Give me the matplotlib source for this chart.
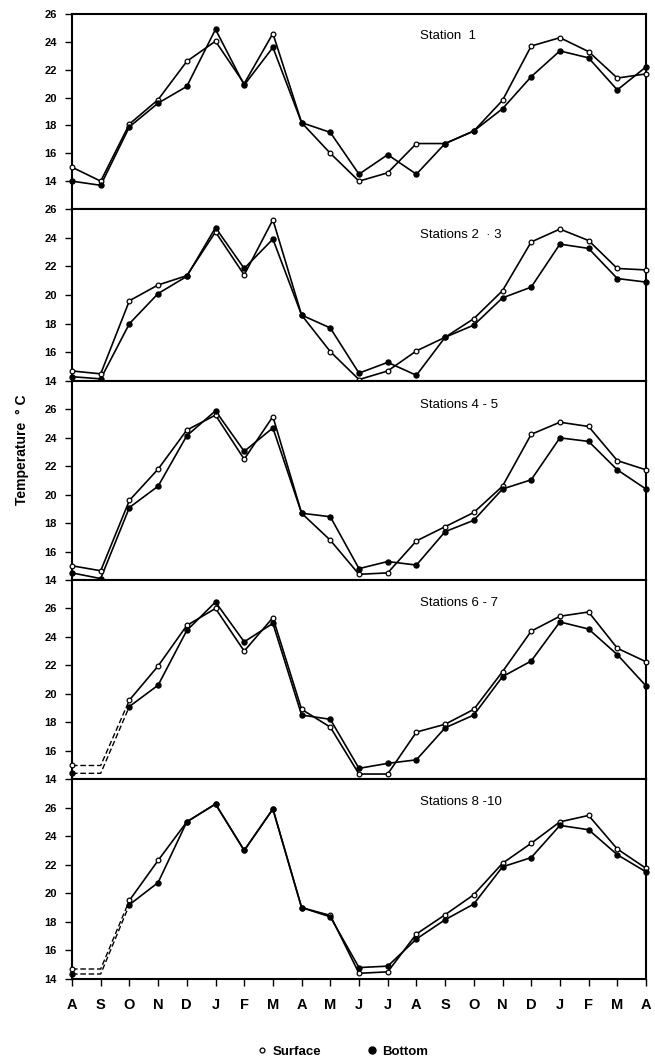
import matplotlib
matplotlib.use("Agg")
import matplotlib.pyplot as plt
from matplotlib.lines import Line2D

plt.rcParams['font.family'] = ['Liberation Sans', 'DejaVu Sans']

months = ["A", "S", "O", "N", "D", "J", "F", "M", "A", "M", "J",
          "J", "A", "S", "O", "N", "D", "J", "F", "M", "A"]

station_labels = ["Station  1", "Stations 2  \u00b7 3", "Stations 4 - 5",
                  "Stations 6 - 7", "Stations 8 -10"]

surface_s1 = [15.0, 14.0, 18.1, 19.85, 22.6, 24.05, 21.0, 24.6, 18.2, 16.0, 14.0,
              14.6, 16.7, 16.7, 17.6, 19.8, 23.7, 24.3, 23.3, 21.4, 21.7]
bottom_s1 = [14.0, 13.7, 17.9, 19.6, 20.8, 24.9, 20.9, 23.6, 18.2, 17.5, 14.5,
             15.9, 14.5, 16.7, 17.6, 19.2, 21.5, 23.35, 22.85, 20.55, 22.2]

surface_s23 = [14.7, 14.5, 19.6, 20.7, 21.35, 24.4, 21.4, 25.25, 18.6, 16.05, 14.1,
               14.7, 16.1, 17.05, 18.35, 20.3, 23.7, 24.6, 23.8, 21.85, 21.75]
bottom_s23 = [14.3, 14.15, 18.0, 20.1, 21.3, 24.7, 21.85, 23.9, 18.6, 17.7, 14.55,
              15.3, 14.4, 17.05, 17.9, 19.8, 20.55, 23.55, 23.25, 21.15, 20.9]

surface_s45 = [15.0, 14.65, 19.6, 21.8, 24.55, 25.6, 22.5, 25.5, 18.7, 16.8, 14.4,
               14.5, 16.75, 17.75, 18.75, 20.6, 24.25, 25.1, 24.8, 22.4, 21.75]
bottom_s45 = [14.5, 14.1, 19.1, 20.6, 24.15, 25.9, 23.05, 24.7, 18.7, 18.45, 14.8,
              15.3, 15.05, 17.4, 18.2, 20.4, 21.05, 24.0, 23.75, 21.75, 20.4]

surface_s67 = [14.95, 14.95, 19.55, 21.95, 24.8, 26.0, 23.0, 25.35, 18.9, 17.65, 14.35,
               14.35, 17.3, 17.85, 18.9, 21.55, 24.4, 25.45, 25.75, 23.2, 22.25]
bottom_s67 = [14.4, 14.4, 19.1, 20.6, 24.45, 26.45, 23.65, 24.95, 18.5, 18.2, 14.75,
              15.1, 15.35, 17.6, 18.5, 21.2, 22.3, 25.05, 24.55, 22.75, 20.55]

surface_s810 = [14.7, 14.7, 19.5, 22.3, 25.0, 26.25, 23.0, 25.9, 19.0, 18.45, 14.4,
                14.5, 17.15, 18.5, 19.9, 22.1, 23.5, 25.0, 25.45, 23.1, 21.75]
bottom_s810 = [14.35, 14.35, 19.2, 20.75, 25.0, 26.25, 23.0, 25.9, 19.0, 18.35, 14.8,
               14.9, 16.8, 18.15, 19.25, 21.85, 22.5, 24.75, 24.45, 22.7, 21.5]

surfaces = [surface_s1, surface_s23, surface_s45, surface_s67, surface_s810]
bottoms = [bottom_s1, bottom_s23, bottom_s45, bottom_s67, bottom_s810]
dashed_start = [False, False, False, True, True]

yticks = [14, 16, 18, 20, 22, 24, 26]

W, H = 655, 1061
fig = plt.figure(figsize=(W / 100, H / 100), dpi=100)

left_px, right_px = 72, 646
# (top_px, bottom_px, ymin, ymax) per panel
panels = [(14, 209, 12, 26), (209, 381, 14, 26), (381, 580, 14, 28),
          (580, 779, 14, 28), (779, 979, 14, 28)]
label_y = [36, 235, 405, 603, 802]

x = list(range(len(months)))
lw = 1.2
ms_open = 3.4
ms_fill = 3.6

axes = []
for i, (top, bot, ymin, ymax) in enumerate(panels):
    ax = fig.add_axes([left_px / W, 1 - bot / H, (right_px - left_px) / W, (bot - top) / H])
    axes.append(ax)
    ax.set_xlim(0, len(months) - 1)
    ax.set_ylim(ymin, ymax)
    s = surfaces[i]
    b = bottoms[i]
    if dashed_start[i]:
        ax.plot(x[:3], s[:3], color='black', lw=1.0, ls=(0, (4, 2)), zorder=2)
        ax.plot(x[:3], b[:3], color='black', lw=1.0, ls=(0, (4, 2)), zorder=2)
        ax.plot(x[2:], s[2:], color='black', lw=lw, zorder=3)
        ax.plot(x[2:], b[2:], color='black', lw=lw, zorder=3)
        xs = [x[0]] + x[2:]
        ss = [s[0]] + s[2:]
        bs = [b[0]] + b[2:]
    else:
        ax.plot(x, s, color='black', lw=lw, zorder=3)
        ax.plot(x, b, color='black', lw=lw, zorder=3)
        xs, ss, bs = x, s, b
    ax.plot(xs, ss, ls='none', marker='o', ms=ms_open, mfc='white', mec='black',
            mew=0.9, zorder=4, clip_on=False)
    ax.plot(xs, bs, ls='none', marker='o', ms=ms_fill, mfc='black', mec='black',
            zorder=5, clip_on=False)
    ax.set_yticks(yticks)
    ax.set_yticklabels([str(t) for t in yticks], fontsize=8, fontweight='bold')
    ax.tick_params(axis='y', direction='out', length=5, width=1.0, pad=6)
    for sp in ax.spines.values():
        sp.set_linewidth(1.5)
    ax.set_xticks(x)
    if i < len(panels) - 1:
        ax.tick_params(axis='x', length=0, labelbottom=False)
    else:
        ax.set_xticklabels(months, fontsize=10.5, fontweight='bold')
        ax.tick_params(axis='x', direction='out', length=5, width=1.0, pad=9)
    fig.text(420 / W, 1 - label_y[i] / H, station_labels[i], fontsize=9.5,
             ha='left', va='center')

fig.text(22 / W, 1 - 450 / H, "Temperature  \u00b0 C", rotation=90, fontsize=10,
         fontweight='bold', ha='center', va='center')

handles = [Line2D([], [], ls='none', marker='o', ms=3.5, mfc='white', mec='black', mew=0.9),
           Line2D([], [], ls='none', marker='o', ms=5, mfc='black', mec='black')]
fig.legend(handles, ["Surface", "Bottom"], loc='center', bbox_to_anchor=(342 / W, 1 - 1052 / H),
           ncol=2, frameon=False, prop={'size': 9.5, 'weight': 'bold'},
           handletextpad=0.3, columnspacing=3.3, handlelength=1.0)

fig.savefig("out.png", dpi=100)
